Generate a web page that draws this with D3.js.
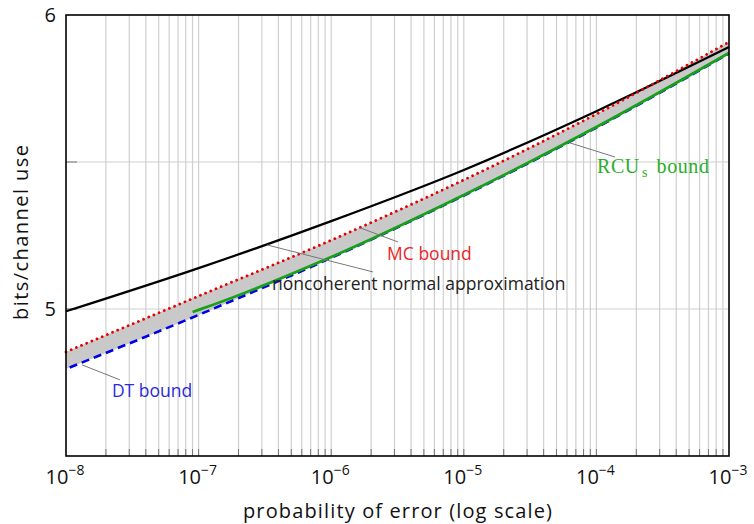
<!DOCTYPE html>
<html><head><meta charset="utf-8">
<script src="https://cdn.jsdelivr.net/npm/d3@7"></script>
<style>body{margin:0;background:#fff} text{font-family:"Open Sans",sans-serif}</style>
</head><body><svg id="c" width="754" height="524"></svg>
<script>
// ---- data ----
const pe = [1e-8, 1e-7, 1e-6, 1e-5, 1e-4, 1e-3];
const normalApprox = [4.992, 5.139, 5.299, 5.473, 5.673, 5.891];
const mcBound = [4.854, 5.044, 5.234, 5.439, 5.663, 5.908];
const dtBound = [4.796, 4.980, 5.174, 5.386, 5.617, 5.869];
const rcuPe = [9e-8, 1e-7, 1e-6, 1e-5, 1e-4, 1e-3];
const rcuBound = [4.990, 4.997, 5.177, 5.388, 5.619, 5.871];
const yGrid = [5, 5.5];
const yLabels = [5, 6];
const xExps = [-8, -7, -6, -5, -4, -3];

// annotations in data coordinates: label anchor, pointer from/to
const notes = [
  {text: "DT bound", color: "#2b2bdc", tx: 2.22e-8, ty: 4.701, p0: [1.32e-8, 4.810], p1: [2.55e-8, 4.759]},
  {text: "MC bound", color: "#e8262a", tx: 2.64e-6, ty: 5.167, p0: [1.65e-6, 5.276], p1: [3.19e-6, 5.228]},
  {text: "noncoherent normal approximation", color: "#222", tx: 3.58e-7, ty: 5.065, p0: [3.28e-7, 5.218], p1: [2.07e-6, 5.126]},
  {text: "RCU", sub: "s", rest: " bound", color: "#2aae2a", tx: 1.01e-4, ty: 5.463, p0: [6.32e-5, 5.565], p1: [1.38e-4, 5.517], serif: true}
];

// ---- layout ----
const svg = d3.select("#c");
const L = 66, R = 729, T = 15, B = 456;
const x = d3.scaleLog().domain([1e-8, 1e-3]).range([L, R]);
const y = d3.scaleLinear().domain([4.5, 6]).range([B, T]);

// grid
const minor = [];
for (let e = -8; e < -3; e++) for (let m = 1; m <= 9; m++) {
  const v = m * Math.pow(10, e);
  if (v > 1e-8 * 1.0001) minor.push(v);
}
svg.append("g").selectAll("line").data(minor).join("line")
  .attr("x1", d => x(d)).attr("x2", d => x(d)).attr("y1", T).attr("y2", B)
  .attr("stroke", "#cfcfcf").attr("stroke-width", 1.2);
svg.append("g").selectAll("line").data(yGrid).join("line")
  .attr("x1", L).attr("x2", R).attr("y1", d => y(d)).attr("y2", d => y(d))
  .attr("stroke", "#cfcfcf").attr("stroke-width", 1.2);

// ticks
svg.append("g").selectAll("line").data(minor).join("line")
  .attr("x1", d => x(d)).attr("x2", d => x(d)).attr("y1", B).attr("y2", B - 7)
  .attr("stroke", "#777").attr("stroke-width", 1);
svg.append("g").selectAll("line").data(yGrid).join("line")
  .attr("x1", L).attr("x2", L + 11).attr("y1", d => y(d)).attr("y2", d => y(d))
  .attr("stroke", "#888").attr("stroke-width", 1.2);

// band
const idx = d3.range(pe.length);
svg.append("path").datum(idx)
  .attr("d", d3.area().curve(d3.curveMonotoneX)
    .x(i => x(pe[i])).y0(i => y(dtBound[i])).y1(i => y(mcBound[i])))
  .attr("fill", "#c9c9c9");

const line = (xs, ys) => d3.line().curve(d3.curveMonotoneX)
  .x(i => x(xs[i])).y(i => y(ys[i]))(d3.range(xs.length));

svg.append("path").attr("d", line(pe, dtBound)).attr("fill", "none")
  .attr("stroke", "#0000e6").attr("stroke-width", 2.6).attr("stroke-dasharray", "8 5").attr("stroke-dashoffset", -4);
svg.append("path").attr("d", line(rcuPe, rcuBound)).attr("fill", "none")
  .attr("stroke", "#18a018").attr("stroke-width", 2.7);
svg.append("path").attr("d", line(pe, normalApprox)).attr("fill", "none")
  .attr("stroke", "#000").attr("stroke-width", 2.2);
svg.append("path").attr("d", line(pe, mcBound)).attr("fill", "none")
  .attr("stroke", "#e60000").attr("stroke-width", 2.8).attr("stroke-linecap", "round")
  .attr("stroke-dasharray", "0.01 5.6");

// border
svg.append("rect").attr("x", L).attr("y", T).attr("width", R - L).attr("height", B - T)
  .attr("fill", "none").attr("stroke", "#000").attr("stroke-width", 1.6);

// x tick labels
const xl = svg.append("g").selectAll("text").data(xExps).join("text")
  .attr("x", d => x(Math.pow(10, d)) - 1).attr("y", 484)
  .attr("text-anchor", "middle").attr("fill", "#111").attr("font-size", 20);
xl.append("tspan").text("10");
xl.append("tspan").attr("dy", -9).attr("font-size", 14).text(d => "\u2212" + Math.abs(d));

// y tick labels
svg.append("g").selectAll("text").data(yLabels).join("text")
  .attr("x", L - 10).attr("y", d => y(d) + 7).attr("text-anchor", "end")
  .attr("fill", "#111").attr("font-size", 20).text(d => d);

// axis titles
svg.append("text").attr("x", (L + R) / 2).attr("y", 518).attr("text-anchor", "middle")
  .attr("font-size", 20).attr("fill", "#111").attr("textLength", 309).attr("lengthAdjust", "spacing")
  .text("probability of error (log scale)");
svg.append("text").attr("transform", `translate(28,${(T + B) / 2 - 3}) rotate(-90)`)
  .attr("text-anchor", "middle").attr("font-size", 20).attr("fill", "#111")
  .attr("textLength", 175).attr("lengthAdjust", "spacing")
  .text("bits/channel use");

// annotations
notes.forEach(n => {
  svg.append("line").attr("x1", x(n.p0[0])).attr("y1", y(n.p0[1]))
    .attr("x2", x(n.p1[0])).attr("y2", y(n.p1[1]))
    .attr("stroke", "#777").attr("stroke-width", 1);
  const t = svg.append("text").attr("x", x(n.tx)).attr("y", y(n.ty)).attr("fill", n.color);
  if (n.serif) {
    t.style("font-family", "'Liberation Serif', serif").attr("font-size", 20).attr("letter-spacing", 0.6);
    t.append("tspan").text(n.text);
    t.append("tspan").attr("dy", 4).attr("dx", 2).attr("font-size", 14).text(n.sub);
    t.append("tspan").attr("dy", -4).attr("dx", 3).text(n.rest);
  } else {
    t.attr("font-size", 17.5).text(n.text);
  }
});
</script></body></html>
